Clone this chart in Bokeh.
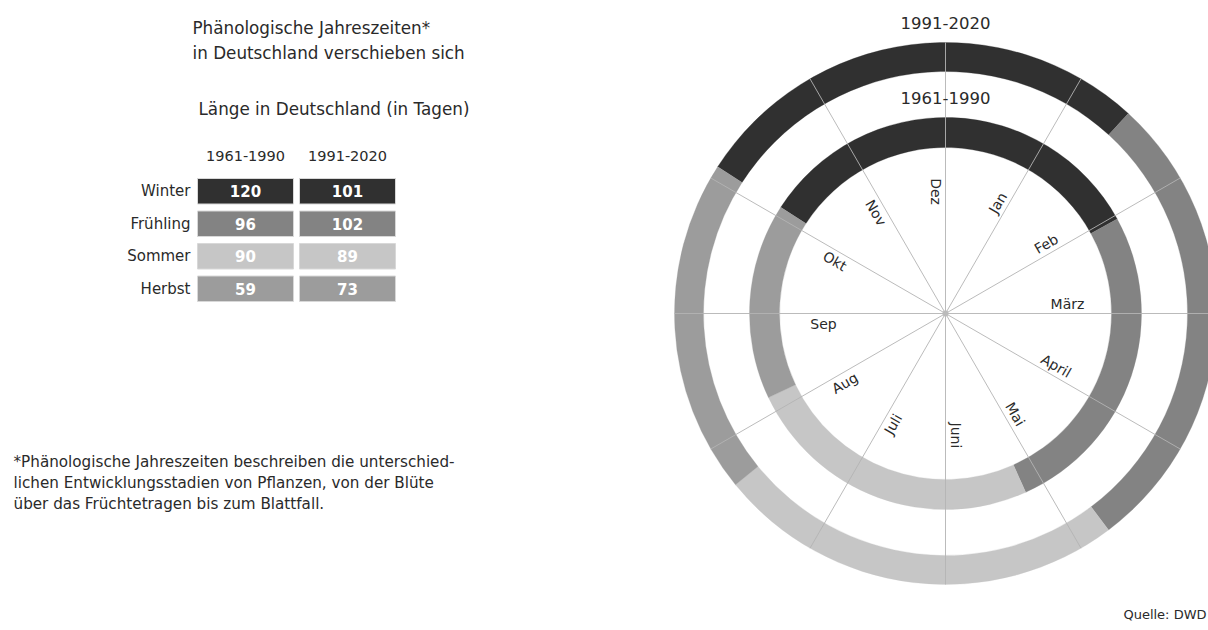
import numpy as np
from bokeh.plotting import figure
from bokeh.models import Range1d, ColumnDataSource
from bokeh.core.properties import value
from bokeh.embed import file_html
from bokeh.resources import INLINE

# ---------------- data ----------------
seasons = ["Winter", "Frühling", "Sommer", "Herbst"]
days_1961_1990 = [120, 96, 90, 59]
days_1991_2020 = [101, 102, 89, 73]
periods = ["1961-1990", "1991-2020"]
months = ["Dez", "Jan", "Feb", "März", "April", "Mai", "Juni", "Juli", "Aug", "Sep", "Okt", "Nov"]
winter_start_day = -58          # winter begins ~58 days before the "Dez" spoke
days_in_year = 365
title_lines = ["Phänologische Jahreszeiten*", "in Deutschland verschieben sich"]
subtitle = "Länge in Deutschland (in Tagen)"
footnote_lines = ["*Phänologische Jahreszeiten beschreiben die unterschied-",
                  "lichen Entwicklungsstadien von Pflanzen, von der Blüte",
                  "über das Früchtetragen bis zum Blattfall."]
source_text = "Quelle: DWD"

# ---------------- style ----------------
season_colors = ["#303030", "#838383", "#c6c6c6", "#9c9c9c"]
FONT = "DejaVu Sans"
TXT = "#2a2a2a"
W, H = 1208, 630

def Y(py):
    return H - py

p = figure(width=W, height=H, x_range=Range1d(0, W), y_range=Range1d(0, H),
           output_backend="svg", toolbar_location=None, min_border=0)
p.axis.visible = False
p.grid.visible = False
p.outline_line_color = None
p.background_fill_color = "white"
p.border_fill_color = "white"

# ---------------- left: titles ----------------
p.text(x=[192] * 2, y=[Y(27), Y(52)], text=title_lines, text_font=value(FONT),
       text_font_size="16.8px", text_color=TXT, text_baseline="middle", text_align="left")
p.text(x=[198], y=[Y(108)], text=[subtitle], text_font=value(FONT),
       text_font_size="16.8px", text_color=TXT, text_baseline="middle", text_align="left")

# ---------------- table ----------------
col_left = [197, 299]
col_w = 96
row_top0, row_pitch, row_h = 178, 32.5, 25.5
for ci, (period, vals) in enumerate(zip(periods, [days_1961_1990, days_1991_2020])):
    lefts = [col_left[ci]] * len(seasons)
    rights = [col_left[ci] + col_w] * len(seasons)
    tops = [Y(row_top0 + i * row_pitch) for i in range(len(seasons))]
    bottoms = [Y(row_top0 + i * row_pitch + row_h) for i in range(len(seasons))]
    src = ColumnDataSource(dict(left=lefts, right=rights, top=tops, bottom=bottoms,
                                color=season_colors, val=[str(v) for v in vals],
                                xc=[col_left[ci] + col_w / 2] * len(seasons),
                                yc=[(t + b) / 2 for t, b in zip(tops, bottoms)]))
    p.quad(left="left", right="right", top="top", bottom="bottom", fill_color="color",
           line_color="#d8d8d8", line_width=1, source=src)
    p.text(x="xc", y="yc", text="val", source=src, text_font=value(FONT),
           text_font_size="15px", text_font_style="bold", text_color="white",
           text_align="center", text_baseline="middle")
    p.text(x=[col_left[ci] + col_w / 2], y=[Y(155)], text=[period], text_font=value(FONT),
           text_font_size="14.5px", text_color=TXT, text_align="center", text_baseline="middle")

p.text(x=[190] * len(seasons), y=[Y(row_top0 + i * row_pitch + row_h / 2) for i in range(len(seasons))],
       text=seasons, text_font=value(FONT), text_font_size="15px", text_color=TXT,
       text_align="right", text_baseline="middle")

# ---------------- footnote / source ----------------
p.text(x=[13] * 3, y=[Y(461), Y(482), Y(503)], text=footnote_lines, text_font=value(FONT),
       text_font_size="15.2px", text_color=TXT, text_align="left", text_baseline="middle")
p.text(x=[1206], y=[Y(614)], text=[source_text], text_font=value(FONT),
       text_font_size="13px", text_color=TXT, text_align="right", text_baseline="middle")

# ---------------- rings ----------------
cx, cy = 945, Y(313)
rings = [(days_1961_1990, 166, 196), (days_1991_2020, 242, 271)]
deg_per_day = 360.0 / days_in_year
for vals, r_in, r_out in rings:
    cum = np.concatenate([[0], np.cumsum(vals)[:-1]])
    th1 = (winter_start_day + cum) * deg_per_day
    th2 = th1 + np.array(vals) * deg_per_day
    src = ColumnDataSource(dict(start=np.radians(90 - th2), end=np.radians(90 - th1),
                                color=season_colors))
    p.annular_wedge(x=cx, y=cy, inner_radius=r_in, outer_radius=r_out,
                    start_angle="start", end_angle="end", direction="anticlock",
                    fill_color="color", line_color="color", line_width=0.3, source=src)

# spokes
theta = np.arange(len(months)) * 30.0
a = np.radians(90 - theta)
p.segment(x0=[cx] * 12, y0=[cy] * 12, x1=cx + 271 * np.cos(a), y1=cy + 271 * np.sin(a),
          line_color="#b4b4b4", line_width=1, line_alpha=0.9)
p.scatter(x=[cx], y=[cy], size=6, fill_color="#bbbbbb", line_color=None)

# month labels
ad = 90 - theta
rot = ((ad + 90) % 180) - 90
r_lab, d_lab = 122, 10
lx = cx + r_lab * np.cos(a) - d_lab * np.sin(a)
ly = cy + r_lab * np.sin(a) + d_lab * np.cos(a)
p.text(x=lx, y=ly, text=months, angle=np.radians(rot), text_font=value(FONT),
       text_font_size="14px", text_color=TXT, text_align="center", text_baseline="middle")

# ring titles
p.text(x=[cx, cx], y=[Y(97), Y(22)], text=periods, text_font=value(FONT),
       text_font_size="16.5px", text_color=TXT, text_align="center", text_baseline="middle")

open("out.html", "w").write(file_html(p, INLINE))
